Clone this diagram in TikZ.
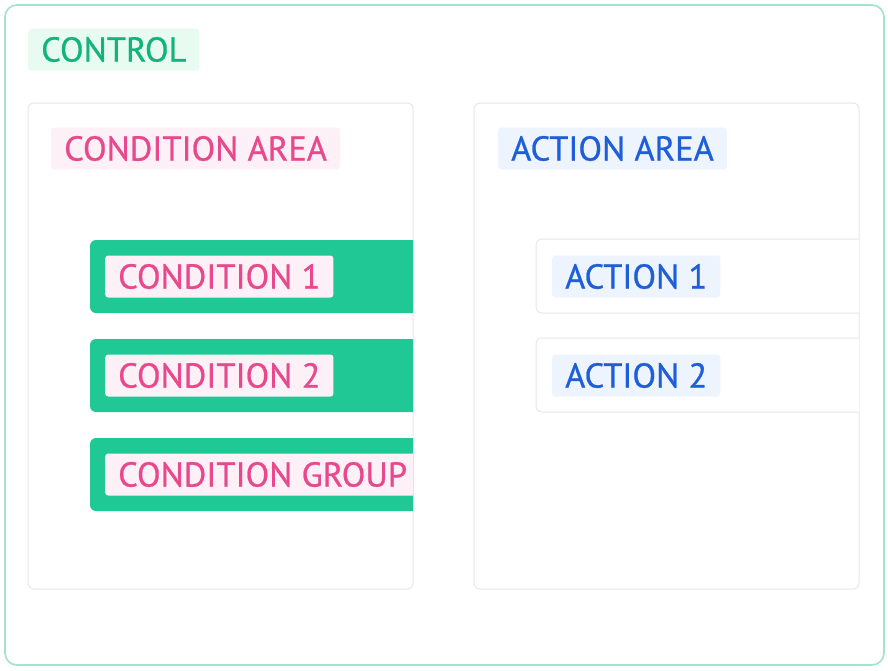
\documentclass[tikz,border=0pt]{standalone}
\usepackage{fontspec}
\setmainfont{PT Sans}[FakeBold=0.7]
\definecolor{ctlgreen}{HTML}{12B47C}
\definecolor{ctlfill}{HTML}{E8FBF1}
\definecolor{ctlline}{HTML}{A3E2CB}
\definecolor{barGreen}{HTML}{20C896}
\definecolor{condPink}{HTML}{E8488C}
\definecolor{condFill}{HTML}{FDF0F6}
\definecolor{actBlue}{HTML}{1E5FD9}
\definecolor{actFill}{HTML}{EDF4FE}
\definecolor{areaLine}{HTML}{E6E8E8}
\tikzset{
    tag/.style={anchor=west, rounded corners=3pt, minimum height=42pt,
        inner xsep=13pt, inner ysep=0pt, font=\fontsize{34.5}{38}\selectfont},
    areabox/.style={draw=areaLine, line width=1pt, fill=white, rounded corners=6pt},
}
\begin{document}
\begin{tikzpicture}[x=1pt, y=-1pt]
        \fill [white] (0,0) rectangle (888,670);
        \draw [draw=ctlline, line width=1.6pt, fill=white, rounded corners=12pt] (5,5) rectangle (884,665);
        \node [tag, fill=ctlfill, text=ctlgreen] (control) at (28,49.5) {CONTROL};
        % condition side
        \draw [areabox] (28,103) rectangle (413,589);
        \node [tag, fill=condFill, text=condPink] (condarea) at (51,148.5) {CONDITION AREA};
        \begin{scope}
            \clip (28,103) rectangle (413,589);
            \fill [barGreen, rounded corners=6pt] (90,240) rectangle (440,313);
            \fill [barGreen, rounded corners=6pt] (90,339) rectangle (440,412);
            \fill [barGreen, rounded corners=6pt] (90,438) rectangle (440,511);
            \node [tag, fill=condFill, text=condPink] (cond1) at (105,276.5) {CONDITION 1};
            \node [tag, fill=condFill, text=condPink] (cond2) at (105,375.5) {CONDITION 2};
            \node [tag, fill=condFill, text=condPink] (condgroup) at (105,474.5) {CONDITION GROUP};
        \end{scope}
        % action side
        \draw [areabox] (474,103) rectangle (859,589);
        \node [tag, fill=actFill, text=actBlue] (actarea) at (498,148.5) {ACTION AREA};
        \begin{scope}
            \clip (474,103) rectangle (859,589);
            \draw [areabox] (536,239) rectangle (890,313);
            \draw [areabox] (536,338) rectangle (890,412);
            \node [tag, fill=actFill, text=actBlue] (act1) at (552,276.5) {ACTION 1};
            \node [tag, fill=actFill, text=actBlue] (act2) at (552,375.5) {ACTION 2};
        \end{scope}
    \end{tikzpicture}
\end{document}
